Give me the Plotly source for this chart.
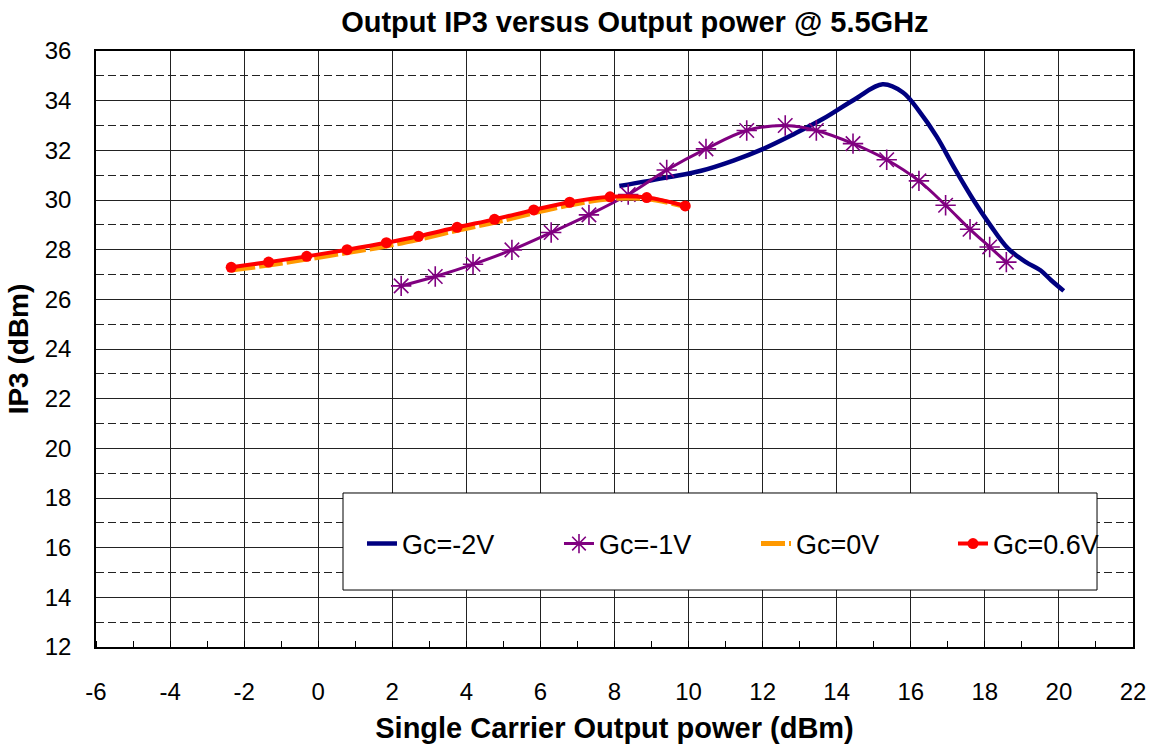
import plotly.graph_objects as go

# ---- data ----
x_m2 = [8.13, 9.47, 10.34, 11.21, 12.0, 12.85, 13.62, 14.49, 15.24, 15.79, 16.22, 16.70, 17.19, 17.67, 18.15, 18.63, 19.11, 19.5, 19.79, 20.13]
y_m2 = [30.56, 30.92, 31.18, 31.59, 32.05, 32.66, 33.26, 34.06, 34.66, 34.33, 33.59, 32.55, 31.25, 30.05, 28.98, 28.04, 27.5, 27.17, 26.77, 26.34]

x_m1 = [2.24, 3.16, 4.18, 5.23, 6.29, 7.31, 8.37, 9.41, 10.47, 11.57, 12.61, 13.45, 14.44, 15.35, 16.22, 16.94, 17.60, 18.13, 18.58]
y_m1 = [26.54, 26.92, 27.41, 27.99, 28.69, 29.40, 30.22, 31.21, 32.06, 32.80, 33.00, 32.80, 32.27, 31.62, 30.77, 29.79, 28.82, 28.11, 27.50]

x_0 = [-2.35, -1.34, -0.31, 0.78, 1.84, 2.71, 3.75, 4.76, 5.82, 6.79, 7.88, 8.87, 9.91]
y_0 = [27.18, 27.38, 27.62, 27.88, 28.15, 28.42, 28.78, 29.10, 29.48, 29.80, 30.05, 30.05, 29.74]

x_06 = [-2.35, -1.34, -0.31, 0.78, 1.84, 2.71, 3.75, 4.76, 5.82, 6.79, 7.88, 8.87, 9.91]
y_06 = [27.29, 27.50, 27.73, 28.00, 28.28, 28.54, 28.90, 29.22, 29.60, 29.91, 30.13, 30.10, 29.76]

names = ["Gc=-2V", "Gc=-1V", "Gc=0V", "Gc=0.6V"]
x_ticks = list(range(-6, 23, 2))
y_ticks = list(range(12, 37, 2))

FONT = "Liberation Sans, Arial, sans-serif"

fig = go.Figure()
fig.add_trace(go.Scatter(x=x_m2, y=y_m2, mode="lines", name=names[0],
                         line=dict(color="#000080", width=4.5, shape="spline", smoothing=1)))
fig.add_trace(go.Scatter(x=x_m1, y=y_m1, mode="lines+markers", name=names[1],
                         line=dict(color="#800080", width=3, shape="spline", smoothing=1),
                         marker=dict(symbol="asterisk-open", size=17, color="#800080",
                                     line=dict(color="#800080", width=1.6))))
fig.add_trace(go.Scatter(x=x_0, y=y_0, mode="lines", name=names[2],
                         line=dict(color="#FF9900", width=5, dash="24px,4px", shape="spline", smoothing=1)))
fig.add_trace(go.Scatter(x=x_06, y=y_06, mode="lines+markers", name=names[3],
                         line=dict(color="#FF0000", width=4, shape="spline", smoothing=1),
                         marker=dict(symbol="circle", size=11, color="#FF0000")))

# legend box
fig.add_shape(type="rect", xref="paper", yref="paper",
              x0=0.2382, x1=0.9653, y0=0.0956, y1=0.2584,
              line=dict(color="black", width=1), fillcolor="white", layer="above")

fig.update_layout(
    width=1155, height=745,
    margin=dict(l=96, r=22, t=51, b=98, autoexpand=False),
    paper_bgcolor="white", plot_bgcolor="white",
    font=dict(family=FONT, color="black"),
    title=dict(text="<b>Output IP3 versus Output power @ 5.5GHz</b>",
               font=dict(size=29, family=FONT, color="black"),
               x=0.5497, xanchor="center", xref="container",
               y=1 - 22 / 745, yanchor="middle", yref="container", automargin=False),
    showlegend=True,
    legend=dict(orientation="h", x=0.2565, xanchor="left", y=0.1728, yanchor="middle",
                font=dict(size=27, family=FONT, color="black"),
                bgcolor="rgba(0,0,0,0)", borderwidth=0,
                entrywidth=152, entrywidthmode="pixels", traceorder="normal"),
)

fig.update_xaxes(range=[-6, 22], tickvals=x_ticks, ticktext=[str(v) for v in x_ticks],
                 automargin=False,
                 showgrid=True, gridcolor="#222", gridwidth=1,
                 showline=True, linecolor="black", linewidth=1.5, mirror=True,
                 ticks="", tickfont=dict(size=24, family=FONT, color="black"),
                 ticklabelstandoff=22, zeroline=False,
                 minor=dict(dtick=1, tick0=-5, ticks="inside", ticklen=6, tickcolor="black",
                            showgrid=False),
                 title=dict(text="<b>Single Carrier Output power (dBm)</b>",
                            font=dict(size=29, family=FONT, color="black"), standoff=14))
fig.update_yaxes(range=[12, 36], tickvals=y_ticks, ticktext=[str(v) for v in y_ticks],
                 automargin=False,
                 showgrid=True, gridcolor="#222", gridwidth=1,
                 showline=True, linecolor="black", linewidth=1.5, mirror=True,
                 ticks="", tickfont=dict(size=24, family=FONT, color="black"),
                 ticklabelstandoff=18, zeroline=False,
                 minor=dict(dtick=1, tick0=13, showgrid=True, griddash="8px,4px",
                            gridcolor="#222", gridwidth=1, ticks=""),
                 title=dict(text="<b>IP3 (dBm)</b>",
                            font=dict(size=28, family=FONT, color="black"), standoff=8))

fig.write_html("out.html", config={"displayModeBar": False},
               post_script="document.body.style.margin='0';document.body.style.padding='0';")
